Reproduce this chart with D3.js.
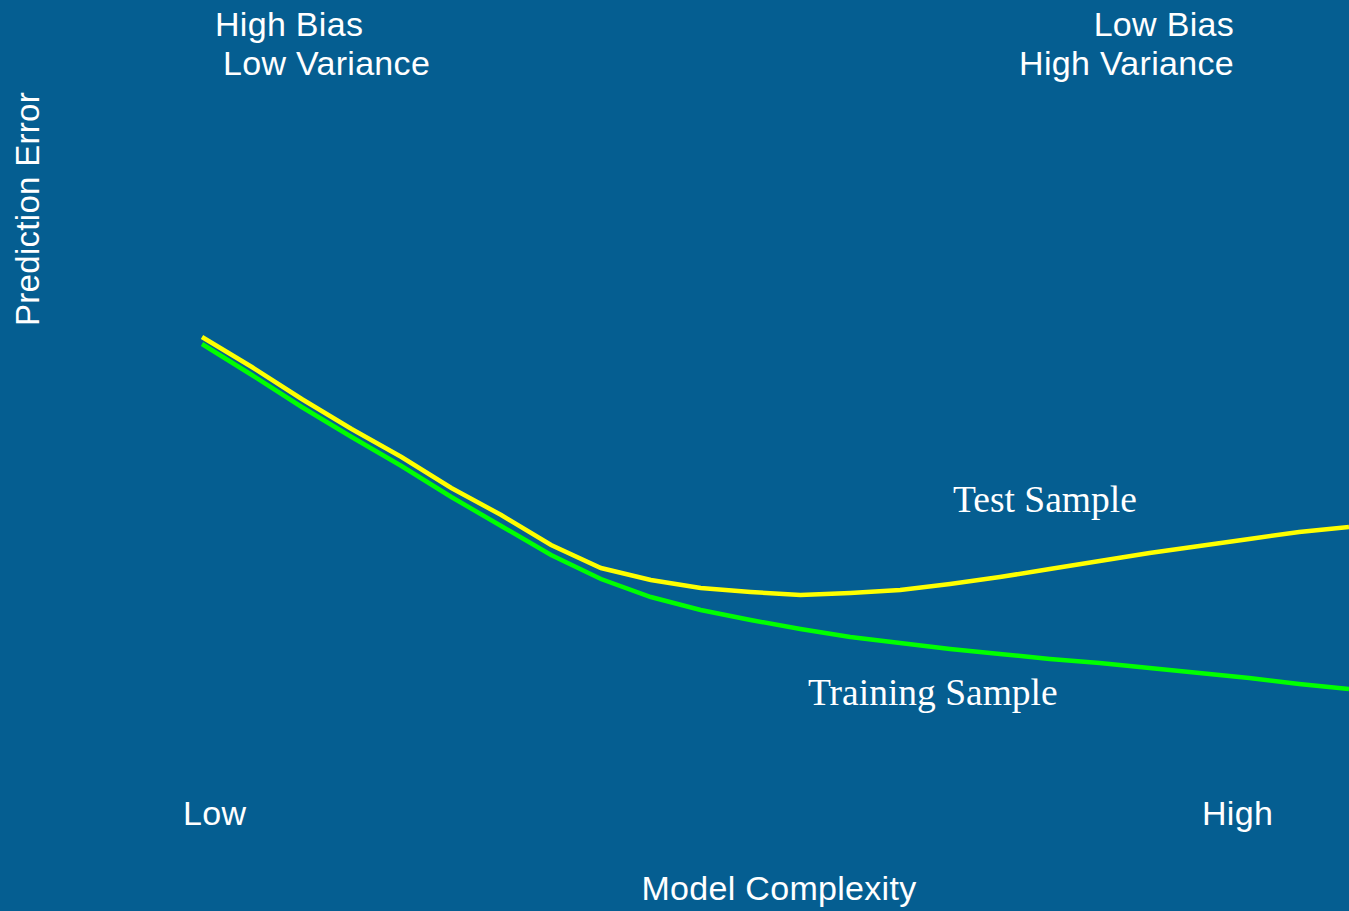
<!DOCTYPE html>
<meta charset="utf-8">
<script src="https://d3js.org/d3.v7.min.js"></script>
<style>
  body { margin: 0; background: #055e91; }
</style>
<div id="chart"></div>
<script>
// model complexity steps (low -> high)
const complexity = d3.range(24);
// prediction error
const testError = [9.26, 8.66, 8.02, 7.42, 6.86, 6.24, 5.70, 5.10, 4.64, 4.40, 4.24, 4.16,
                   4.10, 4.14, 4.20, 4.32, 4.46, 4.62, 4.78, 4.94, 5.08, 5.22, 5.36, 5.46];
const trainError = [9.12, 8.50, 7.86, 7.26, 6.68, 6.06, 5.48, 4.90, 4.42, 4.06, 3.80, 3.60,
                    3.42, 3.26, 3.14, 3.02, 2.92, 2.82, 2.74, 2.64, 2.54, 2.44, 2.32, 2.22];
const xTickLabels = ["Low", "High"];

const width = 1349, height = 911;

const svg = d3.select("#chart").append("svg")
    .attr("width", width)
    .attr("height", height)
    .style("display", "block");

svg.append("rect").attr("width", width).attr("height", height).attr("fill", "#055e91");

const x = d3.scaleLinear().domain([0, complexity.length - 1]).range([202, 1349]);
const y = d3.scaleLinear().domain([0, 10]).range([800, 300]);

const line = d3.line()
    .x((d, i) => x(complexity[i]))
    .y(d => y(d));

svg.append("path").datum(trainError)
    .attr("d", line)
    .attr("fill", "none")
    .attr("stroke", "#00ff00")
    .attr("stroke-width", 4.5);

svg.append("path").datum(testError)
    .attr("d", line)
    .attr("fill", "none")
    .attr("stroke", "#ffff00")
    .attr("stroke-width", 4.5);

const sans = "Liberation Sans, Arial, sans-serif";
const serif = "Liberation Serif, Times New Roman, serif";

function label(txt, px, py, opts) {
  opts = opts || {};
  return svg.append("text")
      .attr("x", px).attr("y", py)
      .attr("fill", "white")
      .attr("font-family", opts.family || sans)
      .attr("font-size", opts.size || 34)
      .attr("letter-spacing", opts.family ? 0 : 0.3)
      .attr("text-anchor", opts.anchor || "start")
      .text(txt);
}

// corner annotations
label("High Bias", 215, 36);
label("Low Variance", 223, 75);
label("Low Bias", 1234, 36, {anchor: "end"});
label("High Variance", 1234, 75, {anchor: "end"});

// x axis end labels
label(xTickLabels[0], 183, 825);
label(xTickLabels[1], 1202, 825);

// axis titles
label("Model Complexity", 779, 900, {anchor: "middle"});
svg.append("text")
    .attr("transform", "translate(39,209) rotate(-90)")
    .attr("fill", "white")
    .attr("font-family", sans)
    .attr("font-size", 33)
    .attr("letter-spacing", 0.3)
    .attr("text-anchor", "middle")
    .text("Prediction Error");

// series labels
label("Test Sample", 953, 512, {family: serif, size: 37.5});
label("Training Sample", 808, 705, {family: serif, size: 37.5});
</script>
